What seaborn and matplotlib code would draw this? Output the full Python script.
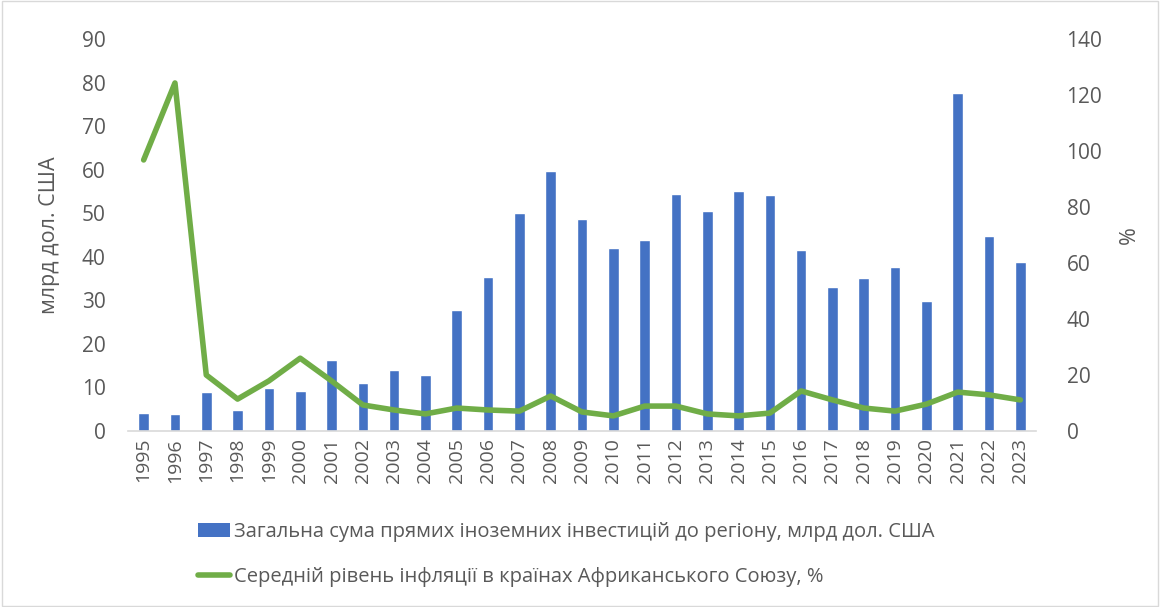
import numpy as np
import pandas as pd
import matplotlib
matplotlib.use("Agg")
import matplotlib.pyplot as plt
import seaborn as sns
from matplotlib.patches import Patch, Rectangle
from matplotlib.lines import Line2D

years = [str(y) for y in range(1995, 2024)]
fdi = [4.1, 3.9, 9.0, 4.8, 9.9, 9.2, 16.3, 11.0, 14.0, 12.8, 27.8, 35.3, 50.0, 59.8,
       48.6, 42.0, 43.9, 54.4, 50.5, 55.0, 54.1, 41.5, 33.0, 35.1, 37.6, 29.8, 77.5,
       44.8, 38.7]
inflation = [96.8, 124.3, 20.0, 11.4, 17.9, 26.0, 17.9, 9.3, 7.5, 6.1, 8.2, 7.5, 7.1,
             12.5, 6.8, 5.4, 8.9, 8.9, 6.1, 5.4, 6.4, 14.3, 11.1, 8.2, 7.1, 9.6, 13.9,
             12.9, 11.1]
label_bar = "Загальна сума прямих іноземних інвестицій до регіону, млрд дол. США"
label_line = "Середній рівень інфляції в країнах Африканського Союзу, %"

sns.set_theme(style="white")
plt.rcParams['font.family'] = ['Open Sans', 'DejaVu Sans']
txt = "#595959"
bar_c = "#4472C4"
line_c = "#70AD47"

df = pd.DataFrame({"year": years, "fdi": fdi, "inf": inflation, "pos": np.arange(len(years))})

fig = plt.figure(figsize=(11.7, 6.07), dpi=100)
ax = fig.add_axes([128/1170, 1-431/607, (1036-128)/1170, (431-39)/607])

sns.barplot(data=df, x="year", y="fdi", color=bar_c, width=0.34, ax=ax, saturation=1)
ax.set_ylim(0, 90)
ax.set_yticks(np.arange(0, 91, 10))
ax.set_xlim(-0.5, len(years)-0.5)
ax.set_xlabel("")
ax.set_ylabel("млрд дол. США", fontsize=15.5, color=txt, labelpad=16)
ax.tick_params(axis="y", length=0, labelsize=15, labelcolor=txt, pad=16)
ax.tick_params(axis="x", which="major", length=0, labelsize=14, labelcolor=txt, labelrotation=90, pad=5)
ax.set_xticks(np.arange(-0.5, len(years), 1), minor=True)
ax.tick_params(axis="x", which="minor", length=6, color="#D9D9D9", width=1)
for s in ["top", "right", "left"]:
    ax.spines[s].set_visible(False)
ax.spines["bottom"].set_color("#D9D9D9")
ax.spines["bottom"].set_linewidth(1.2)

ax2 = ax.twinx()
sns.lineplot(data=df, x="pos", y="inf", color=line_c, linewidth=4, ax=ax2)
ax2.set_ylim(0, 140)
ax2.set_yticks(np.arange(0, 141, 20))
ax2.set_xlim(-0.5, len(years)-0.5)
ax2.set_ylabel("%", fontsize=15.5, color=txt, labelpad=12)
ax2.tick_params(axis="y", length=0, labelsize=15, labelcolor=txt, pad=22)
for s in ["top", "right", "left", "bottom"]:
    ax2.spines[s].set_visible(False)
ax2.set_xlabel("")

handles = [Patch(facecolor=bar_c, edgecolor="none", label=label_bar),
           Line2D([0], [0], color=line_c, linewidth=4, label=label_line)]
fig.legend(handles=handles, loc="upper left", bbox_to_anchor=(190/1170, 1-514/607),
           frameon=False, fontsize=14.5, labelcolor=txt, handlelength=1.6,
           handletextpad=0.2, labelspacing=1.25, borderaxespad=0)

fig.patches.append(Rectangle((0.002, 0.002), 1-0.012, 0.996, transform=fig.transFigure,
                             fill=False, edgecolor="#D9D9D9", linewidth=1))

fig.savefig("out.png", dpi=100)
